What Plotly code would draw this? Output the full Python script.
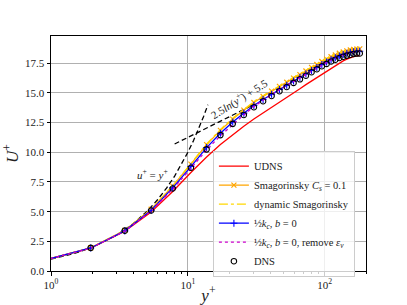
import plotly.graph_objects as go

yplus = [0.22, 0.87, 1.95, 3.46, 5.39, 7.75, 10.52, 13.70, 17.28, 21.25, 25.61, 30.34,
         35.42, 40.86, 46.63, 52.72, 59.12, 65.81, 72.77, 80.00, 87.46, 95.15, 103.04,
         111.12, 119.36, 127.75, 136.26, 144.88, 153.59, 162.36, 171.17, 180.0]

u_dns = [0.22, 0.87, 1.95, 3.40, 5.10, 6.95, 8.70, 10.25, 11.45, 12.40, 13.15, 13.80,
         14.30, 14.75, 15.15, 15.50, 15.85, 16.15, 16.45, 16.75, 17.00, 17.25, 17.45,
         17.65, 17.80, 17.95, 18.05, 18.15, 18.22, 18.28, 18.32, 18.33]
u_udns = [0.22, 0.87, 1.93, 3.35, 4.98, 6.70, 8.30, 9.60, 10.65, 11.50, 12.20, 12.80,
          13.30, 13.80, 14.20, 14.60, 15.00, 15.35, 15.70, 16.00, 16.30, 16.60, 16.85,
          17.10, 17.30, 17.50, 17.70, 17.85, 17.98, 18.07, 18.13, 18.15]
u_smag = [0.22, 0.87, 1.95, 3.42, 5.20, 7.15, 9.00, 10.65, 11.85, 12.80, 13.55, 14.20,
          14.70, 15.15, 15.55, 15.90, 16.25, 16.55, 16.85, 17.15, 17.40, 17.65, 17.85,
          18.05, 18.20, 18.35, 18.45, 18.55, 18.62, 18.67, 18.70, 18.72]
u_dyn = [0.22, 0.87, 1.95, 3.42, 5.22, 7.18, 9.05, 10.70, 11.92, 12.87, 13.62, 14.27,
         14.77, 15.22, 15.62, 15.97, 16.32, 16.62, 16.92, 17.22, 17.47, 17.72, 17.92,
         18.12, 18.27, 18.42, 18.52, 18.62, 18.69, 18.74, 18.77, 18.79]
u_kc = [0.22, 0.87, 1.94, 3.38, 5.12, 7.00, 8.80, 10.40, 11.60, 12.55, 13.30, 13.95,
        14.45, 14.90, 15.30, 15.65, 16.00, 16.30, 16.60, 16.90, 17.15, 17.40, 17.60,
        17.80, 17.97, 18.12, 18.25, 18.35, 18.43, 18.48, 18.51, 18.52]
u_kc_rm = [0.22, 0.87, 1.93, 3.36, 5.06, 6.90, 8.65, 10.20, 11.40, 12.35, 13.15, 13.85,
           14.40, 14.87, 15.28, 15.63, 15.98, 16.28, 16.58, 16.88, 17.13, 17.38, 17.58,
           17.78, 17.95, 18.10, 18.23, 18.33, 18.41, 18.46, 18.49, 18.50]

visc_y = [1, 1.5, 2, 3, 4, 5, 6, 7, 8, 9, 10, 11, 12, 13, 14]
visc_u = [1, 1.5, 2, 3, 4, 5, 6, 7, 8, 9, 10, 11, 12, 13, 14]
log_y = [8, 30]
log_u = [10.70, 14.00]

yticks = [0, 2.5, 5, 7.5, 10, 12.5, 15, 17.5]
xticks = [1, 10, 100]
xtick_text = ["10<sup>0</sup>", "10<sup>1</sup>", "10<sup>2</sup>"]
xminor = [2, 3, 4, 5, 6, 7, 8, 9, 20, 30, 40, 50, 60, 70, 80, 90, 200]

FONT = "Liberation Serif"

fig = go.Figure()
fig.add_trace(go.Scatter(x=visc_y, y=visc_u, mode="lines", showlegend=False,
                         line=dict(color="black", width=1.3, dash="5px,3px")))
fig.add_trace(go.Scatter(x=log_y, y=log_u, mode="lines", showlegend=False,
                         line=dict(color="black", width=1.3, dash="5px,3px")))
fig.add_trace(go.Scatter(x=yplus, y=u_udns, mode="lines", name="UDNS",
                         line=dict(color="#ff0000", width=1.3)))
fig.add_trace(go.Scatter(x=yplus, y=u_smag, mode="lines+markers",
                         name="Smagorinsky <i>C<sub>s</sub></i> = 0.1",
                         line=dict(color="#ffa500", width=1.3),
                         marker=dict(symbol="x-thin-open", size=5,
                                     line=dict(color="#ffa500", width=1.2))))
fig.add_trace(go.Scatter(x=yplus, y=u_dyn, mode="lines", name="dynamic Smagorinsky",
                         line=dict(color="#ffd700", width=1.3, dash="dashdot")))
fig.add_trace(go.Scatter(x=yplus, y=u_kc, mode="lines+markers",
                         name="½<i>k<sub>c</sub></i>, <i>b</i> = 0",
                         line=dict(color="#0000ff", width=1.3),
                         marker=dict(symbol="cross-thin-open", size=5,
                                     line=dict(color="#0000ff", width=1.1))))
fig.add_trace(go.Scatter(x=yplus, y=u_kc_rm, mode="lines",
                         name="½<i>k<sub>c</sub></i>, <i>b</i> = 0, remove <i>ε<sub>ν</sub></i>",
                         line=dict(color="#cc00cc", width=1.3, dash="dot")))
fig.add_trace(go.Scatter(x=yplus, y=u_dns, mode="markers", name="DNS",
                         marker=dict(symbol="circle-open", size=5.5, color="black",
                                     line=dict(color="black", width=1.1))))

fig.add_annotation(x=0.745, y=8.2, xref="x", yref="y", showarrow=False,
                   text="<i>u</i><sup>+</sup> = <i>y</i><sup>+</sup>",
                   font=dict(family=FONT, size=11, color="#222"))
fig.add_annotation(x=1.38, y=14.5, xref="x", yref="y", showarrow=False,
                   text="2.5<i>ln</i>(<i>y</i><sup>+</sup>) + 5.5", textangle=-32,
                   font=dict(family=FONT, size=11, color="#222"))

fig.update_xaxes(type="log", range=[0, 2.301], tickvals=xticks, ticktext=xtick_text,
                 ticks="outside", ticklen=3.5, tickcolor="black", automargin=False,
                 minor=dict(tickvals=xminor, ticks="outside", ticklen=2, tickcolor="black",
                            showgrid=False),
                 showgrid=True, gridcolor="#b0b0b0", gridwidth=0.8,
                 showline=True, linecolor="black", linewidth=1, mirror=True,
                 zeroline=False,
                 title=dict(text="<i>y</i><sup>+</sup>", font=dict(family=FONT, size=17),
                            standoff=2),
                 tickfont=dict(family=FONT, size=11, color="#222"))
fig.update_yaxes(range=[0, 19.8], tickvals=yticks, tickformat=".1f",
                 ticks="outside", ticklen=3.5, tickcolor="black", automargin=False,
                 showgrid=True, gridcolor="#b0b0b0", gridwidth=0.8,
                 showline=True, linecolor="black", linewidth=1, mirror=True,
                 zeroline=False,
                 title=dict(text="<i>U</i><sup>+</sup>", font=dict(family=FONT, size=17),
                            standoff=4),
                 tickfont=dict(family=FONT, size=11, color="#222"))

fig.update_layout(width=407, height=305,
                  margin=dict(l=51, r=41, t=36, b=34, autoexpand=False),
                  paper_bgcolor="white", plot_bgcolor="white",
                  font=dict(family=FONT, size=11, color="#222"),
                  legend=dict(x=0.514, y=0.512, xanchor="left", yanchor="top",
                              bgcolor="rgba(255,255,255,0.8)", bordercolor="#cccccc",
                              borderwidth=1, font=dict(family=FONT, size=10.5),
                              tracegroupgap=0, itemwidth=30),
                  showlegend=True)

fig.write_html("out.html", config={"displayModeBar": False},
               post_script="document.body.style.margin='0';document.body.style.padding='0';")
